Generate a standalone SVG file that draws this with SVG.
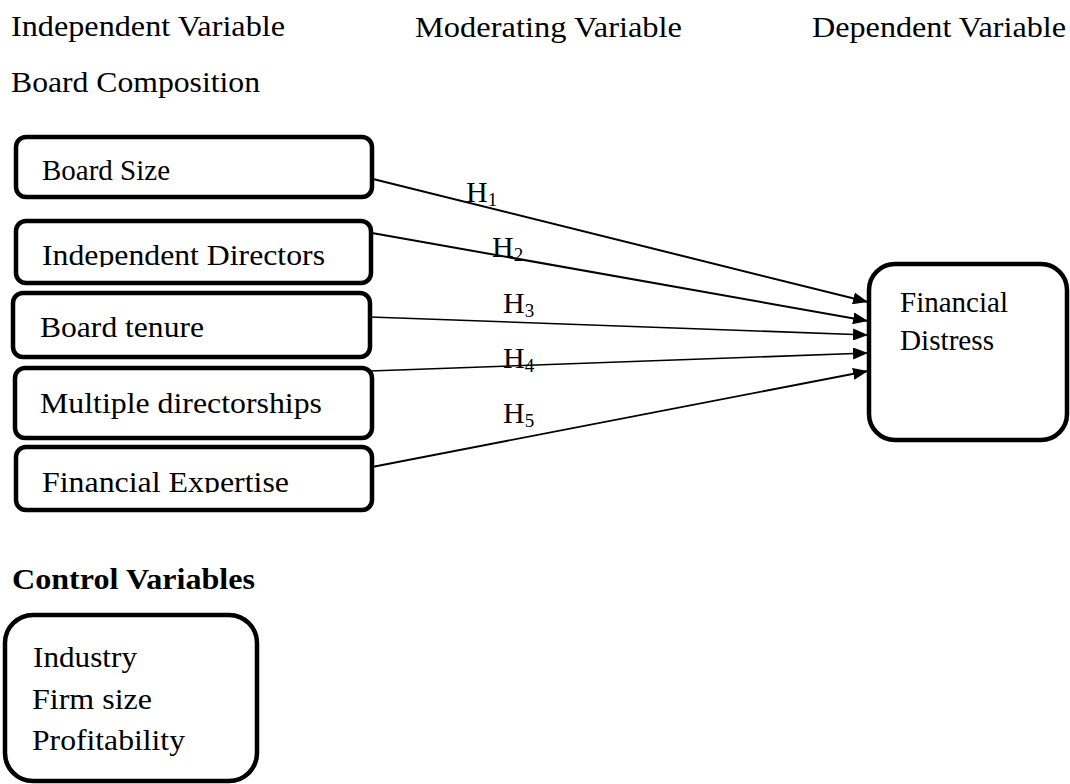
<svg xmlns="http://www.w3.org/2000/svg" width="1070" height="784" viewBox="0 0 1070 784">
<style>
  text { font-family: "Liberation Serif", "Times New Roman", serif; fill: #000; }
  .t { font-size: 30px; }
  .b { font-size: 30px; font-weight: bold; }
  .h { font-size: 30px; }
  .sub { font-size: 19px; }
  .box { fill: #fff; stroke: #000; stroke-width: 4.5; }
  .conn { stroke: #000; fill: none; }
</style>
<defs>
  <marker id="arr" markerUnits="userSpaceOnUse" markerWidth="16" markerHeight="12" refX="15" refY="6" orient="auto">
    <path d="M0,0 L15,6 L0,12 Z" fill="#000"/>
  </marker>
  <clipPath id="clip2"><rect x="0" y="200" width="400" height="67"/></clipPath>
  <clipPath id="clip5"><rect x="0" y="440" width="400" height="53"/></clipPath>
</defs>
<rect width="1070" height="784" fill="#fff"/>

<g id="headers">
  <text class="t" x="11" y="36" textLength="274" lengthAdjust="spacingAndGlyphs">Independent Variable</text>
  <text class="t" x="415" y="37" textLength="267" lengthAdjust="spacingAndGlyphs">Moderating Variable</text>
  <text class="t" x="812" y="37" textLength="254" lengthAdjust="spacingAndGlyphs">Dependent Variable</text>
  <text class="t" x="11" y="92" textLength="249" lengthAdjust="spacingAndGlyphs">Board Composition</text>
</g>

<g id="connectors">
  <line class="conn" x1="373" y1="179" x2="868" y2="302" stroke-width="2" marker-end="url(#arr)"/>
  <line class="conn" x1="372" y1="233" x2="868" y2="321" stroke-width="2" marker-end="url(#arr)"/>
  <line class="conn" x1="370" y1="317" x2="868" y2="335" stroke-width="1.6" marker-end="url(#arr)"/>
  <line class="conn" x1="370" y1="371" x2="868" y2="353" stroke-width="1.6" marker-end="url(#arr)"/>
  <line class="conn" x1="372" y1="467" x2="868" y2="371" stroke-width="1.8" marker-end="url(#arr)"/>
  <text class="h" x="466" y="202">H<tspan class="sub" dy="4">1</tspan></text>
  <text class="h" x="492" y="257">H<tspan class="sub" dy="4">2</tspan></text>
  <text class="h" x="503" y="313">H<tspan class="sub" dy="4">3</tspan></text>
  <text class="h" x="503" y="368">H<tspan class="sub" dy="4">4</tspan></text>
  <text class="h" x="503" y="423">H<tspan class="sub" dy="4">5</tspan></text>
</g>

<g id="board-size">
  <rect class="box" x="16" y="137" width="356" height="60" rx="10"/>
  <text class="t" x="42" y="180" textLength="128" lengthAdjust="spacingAndGlyphs">Board Size</text>
</g>
<g id="independent-directors">
  <rect class="box" x="16" y="221" width="355" height="62" rx="10"/>
  <text class="t" x="42" y="265" textLength="283" lengthAdjust="spacingAndGlyphs" clip-path="url(#clip2)">Independent Directors</text>
</g>
<g id="board-tenure">
  <rect class="box" x="13" y="293" width="357" height="64" rx="10"/>
  <text class="t" x="40" y="337" textLength="164" lengthAdjust="spacingAndGlyphs">Board tenure</text>
</g>
<g id="multiple-directorships">
  <rect class="box" x="15" y="368" width="357" height="70" rx="10"/>
  <text class="t" x="40" y="413" textLength="282" lengthAdjust="spacingAndGlyphs">Multiple directorships</text>
</g>
<g id="financial-expertise">
  <rect class="box" x="16" y="447" width="356" height="63" rx="10"/>
  <text class="t" x="42" y="492" textLength="247" lengthAdjust="spacingAndGlyphs" clip-path="url(#clip5)">Financial Expertise</text>
</g>

<g id="financial-distress">
  <rect class="box" x="869" y="264" width="198" height="176" rx="26"/>
  <text class="t" x="900" y="312" textLength="108" lengthAdjust="spacingAndGlyphs">Financial</text>
  <text class="t" x="900" y="350" textLength="94" lengthAdjust="spacingAndGlyphs">Distress</text>
</g>

<g id="control-title">
  <text class="b" x="12" y="589" textLength="243" lengthAdjust="spacingAndGlyphs">Control Variables</text>
</g>
<g id="control-variables">
  <rect class="box" x="5" y="615" width="252" height="166" rx="28"/>
  <text class="t" x="33" y="667" textLength="104" lengthAdjust="spacingAndGlyphs">Industry</text>
  <text class="t" x="32" y="709" textLength="120" lengthAdjust="spacingAndGlyphs">Firm size</text>
  <text class="t" x="32" y="750" textLength="153" lengthAdjust="spacingAndGlyphs">Profitability</text>
</g>
</svg>
